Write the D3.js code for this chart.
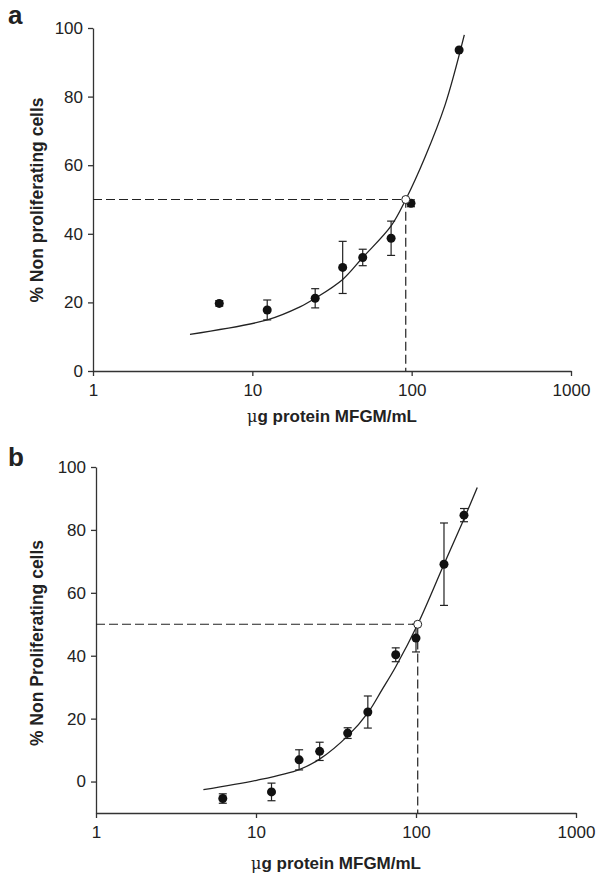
<!DOCTYPE html>
<html>
<head>
<meta charset="utf-8">
<title>MFGM proliferation</title>
<script src="https://d3js.org/d3.v7.min.js"></script>
<style>
  body { margin:0; background:#fff; }
  svg text { font-family: "Liberation Sans", Arial, sans-serif; fill:#222; }
  .axis path, .axis line { stroke:#333; stroke-width:1.3; }
  .axis text { font-size:17px; }
</style>
</head>
<body>
<div id="chart"></div>
<script>
// panel a - measured points
var aDose = [6.2, 12.4, 24.8, 36.9, 49.3, 74.3, 99, 198.5];
var aMean = [19.7, 17.8, 21.2, 30.2, 33.1, 38.7, 48.9, 93.6];
var aErr  = [0.8, 2.9, 2.8, 7.6, 2.4, 5.0, 1.0, 0];
// panel a - fitted curve
var aFitX = [4.06, 12.4, 19.9, 24.8, 36.9, 49.3, 74.3, 91.8, 121.4, 162.1, 214];
var aFitY = [10.7, 14.9, 18.7, 21.2, 26.7, 33.1, 42.3, 50, 62.4, 77.6, 98];
var aIC50 = [91.8, 50];

// panel b
var bDose = [6.2, 12.5, 18.6, 25, 37.4, 50, 74.7, 100, 149.6, 199.5];
var bMean = [-5.4, -3.3, 6.9, 9.6, 15.4, 22.1, 40.3, 45.6, 69.1, 84.7];
var bErr  = [1.5, 2.8, 3.2, 2.9, 1.7, 5.1, 2.2, 4.4, 13.1, 2.1];
var bFitX = [4.69, 10.1, 18.8, 25.1, 37.6, 50.4, 61, 74.7, 102.5, 149.6, 199.5, 241.5];
var bFitY = [-2.6, 0.4, 3.9, 7.2, 14.6, 22.1, 29, 36.5, 50, 69.1, 83.5, 93.5];
var bIC50 = [102.5, 50];

var xTicks = [1, 10, 100, 1000];
var aYTicks = [0, 20, 40, 60, 80, 100];
var bYTicks = [0, 20, 40, 60, 80, 100];

var W = 599, H = 875;
var svg = d3.select("#chart").append("svg").attr("width", W).attr("height", H);

function panel(opt) {
  var x = d3.scaleLog().domain([1, 1000]).range([opt.left, opt.right]);
  var y = d3.scaleLinear().domain(opt.yDomain).range([opt.bottom, opt.top]);
  var g = svg.append("g");

  g.append("g").attr("class", "axis")
    .attr("transform", "translate(0," + opt.bottom + ")")
    .call(d3.axisBottom(x).tickValues(xTicks).tickFormat(d3.format("d"))
      .tickSize(5).tickSizeOuter(0).tickPadding(8));

  g.append("g").attr("class", "axis")
    .attr("transform", "translate(" + opt.left + ",0)")
    .call(d3.axisLeft(y).tickValues(opt.yTicks).tickSize(5).tickSizeOuter(0).tickPadding(5));

  g.selectAll(".axis .domain").attr("fill", "none");

  // dashed guide lines to the IC50 point
  var ic = opt.ic50;
  g.append("path")
    .attr("d", "M" + x(1) + "," + y(ic[1]) + "H" + x(ic[0]) + "V" + y(opt.yDomain[0]))
    .attr("fill", "none").attr("stroke", "#222").attr("stroke-width", 1.2)
    .attr("stroke-dasharray", "9,4");

  // fitted curve
  var line = d3.line()
    .x(function(d, i) { return x(opt.fitX[i]); })
    .y(function(d) { return y(d); })
    .curve(d3.curveCatmullRom.alpha(0.5));
  g.append("path").datum(opt.fitY)
    .attr("d", line)
    .attr("fill", "none").attr("stroke", "#222").attr("stroke-width", 1.3);

  // error bars
  var eb = g.selectAll(".eb").data(opt.mean).enter().append("g").attr("class", "eb");
  eb.append("line")
    .attr("x1", function(d, i) { return x(opt.dose[i]); })
    .attr("x2", function(d, i) { return x(opt.dose[i]); })
    .attr("y1", function(d, i) { return y(d + opt.err[i]); })
    .attr("y2", function(d, i) { return y(d - opt.err[i]); })
    .attr("stroke", "#222").attr("stroke-width", 1.2);
  [1, -1].forEach(function(s) {
    eb.append("line")
      .attr("x1", function(d, i) { return x(opt.dose[i]) - 4; })
      .attr("x2", function(d, i) { return x(opt.dose[i]) + 4; })
      .attr("y1", function(d, i) { return y(d + s * opt.err[i]); })
      .attr("y2", function(d, i) { return y(d + s * opt.err[i]); })
      .attr("stroke", "#222").attr("stroke-width", 1.2)
      .style("display", function(d, i) { return opt.err[i] > 0 ? null : "none"; });
  });

  g.selectAll(".pt").data(opt.mean).enter().append("circle")
    .attr("cx", function(d, i) { return x(opt.dose[i]); })
    .attr("cy", function(d) { return y(d); })
    .attr("r", 4.5).attr("fill", "#111");

  g.append("circle")
    .attr("cx", x(ic[0])).attr("cy", y(ic[1])).attr("r", 4)
    .attr("fill", "#fff").attr("stroke", "#222").attr("stroke-width", 1);

  // labels
  g.append("text").attr("x", 8).attr("y", opt.letterY)
    .style("font-size", "26px").style("font-weight", "bold").text(opt.letter);

  var xt = g.append("text").attr("x", (opt.left + opt.right) / 2).attr("y", opt.xTitleY)
    .attr("text-anchor", "middle").style("font-size", "17px").style("font-weight", "bold");
  xt.append("tspan").style("font-weight", "normal").style("font-family", "'DejaVu Serif', serif")
    .style("font-size", "16px").text("\u03bc");
  xt.append("tspan").text("g protein MFGM/mL");

  g.append("text")
    .attr("transform", "translate(" + 43 + "," + opt.yTitleY + ") rotate(-90)")
    .attr("text-anchor", "middle").style("font-size", "17.5px").style("font-weight", "bold")
    .text(opt.yTitle);
}

panel({
  left: 93, right: 571, top: 28, bottom: 371, yDomain: [0, 100], yTicks: aYTicks,
  dose: aDose, mean: aMean, err: aErr, fitX: aFitX, fitY: aFitY, ic50: aIC50,
  letter: "a", letterY: 24, xTitleY: 422, yTitleY: 200, yTitle: "% Non proliferating cells"
});

panel({
  left: 96, right: 576, top: 467, bottom: 813, yDomain: [-10, 100], yTicks: bYTicks,
  dose: bDose, mean: bMean, err: bErr, fitX: bFitX, fitY: bFitY, ic50: bIC50,
  letter: "b", letterY: 466, xTitleY: 869, yTitleY: 643, yTitle: "% Non Proliferating cells"
});
</script>
</body>
</html>
